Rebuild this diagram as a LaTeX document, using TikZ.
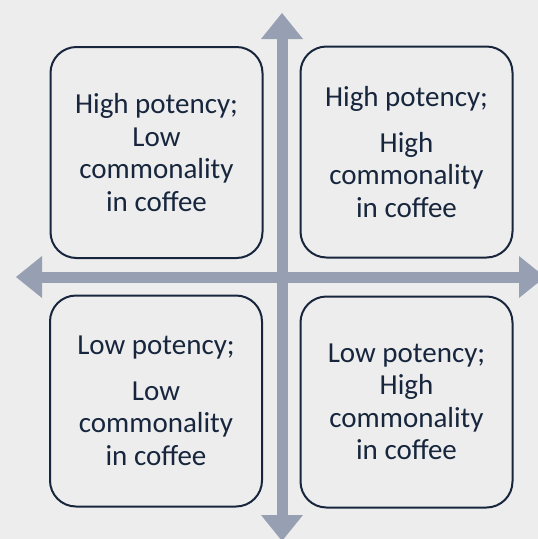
\documentclass[tikz,border=0pt]{standalone}
\usepackage{fontspec}
\setmainfont{Carlito}
\usetikzlibrary{arrows.meta}
\definecolor{pagebg}{HTML}{EDEDED}
\definecolor{axisgray}{HTML}{97A0B3}
\definecolor{navy}{HTML}{17263D}
\begin{document}
\begin{tikzpicture}[x=1pt,y=-1pt,
  axis/.style={draw=axisgray,line width=11pt,
    {Triangle[length=26pt,width=42pt,line width=0pt]}-{Triangle[length=26pt,width=42pt,line width=0pt]}},
  quad/.style={draw=navy,line width=2pt,rounded corners=26pt,
    minimum width=212pt,minimum height=211pt,inner sep=0pt,
    text=navy,align=center,font=\fontsize{29}{32.5}\selectfont},
]
% canvas
\fill[pagebg] (0,0) rectangle (538,539);
\useasboundingbox (0,0) rectangle (538,539);

% axis end points
\coordinate (ytop) at (282,13);
\coordinate (ybot) at (282,541);
\coordinate (xleft) at (16,277);
\coordinate (xright) at (545,277);

\draw[axis] (ytop) -- (ybot);
\draw[axis] (xleft) -- (xright);

% quadrants
\node[quad] (hl) at (156.5,152.5) {High potency;\\Low\\commonality\\in coffee};
\node[quad] (hh) at (406.5,152) {High potency;\\[13pt]High\\commonality\\in coffee};
\node[quad] (ll) at (156,401) {Low potency;\\[13pt]Low\\commonality\\in coffee};
\node[quad] (lh) at (406.5,402) {Low potency;\\High\\commonality\\in coffee};
\end{tikzpicture}
\end{document}
